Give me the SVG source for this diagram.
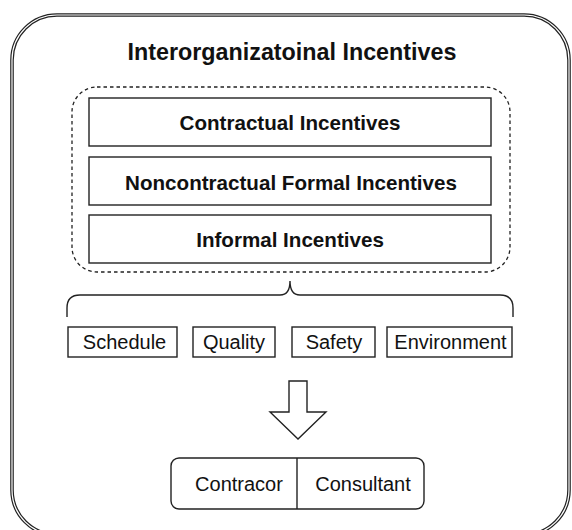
<svg xmlns="http://www.w3.org/2000/svg" width="572" height="530" viewBox="0 0 572 530">
  <style>
    .box { fill: #ffffff; stroke: #222222; stroke-width: 1.4; }
    .bold { font-family: "Liberation Sans", Arial, sans-serif; font-weight: bold; fill: #111111; text-anchor: middle; }
    .reg { font-family: "Liberation Sans", Arial, sans-serif; fill: #111111; text-anchor: middle; font-size: 20px; }
    .line { fill: none; stroke: #222222; stroke-width: 1.4; }
  </style>
  <rect width="572" height="530" fill="#ffffff"/>

  <!-- outer container with double border -->
  <g id="container">
    <rect x="12" y="15" width="557" height="520" rx="45" ry="45" fill="none" stroke="#222222" stroke-width="3.6"/>
    <rect x="12" y="15" width="557" height="520" rx="45" ry="45" fill="none" stroke="#ffffff" stroke-width="1.2"/>
    <text class="bold" x="292" y="60" font-size="23.3px">Interorganizatoinal Incentives</text>
  </g>

  <!-- dashed group of incentive types -->
  <g id="incentive-group">
    <rect x="72" y="87" width="438" height="185" rx="25" ry="25" fill="none" stroke="#222222" stroke-width="1.3" stroke-dasharray="3.5 3"/>
  </g>

  <g id="contractual">
    <rect class="box" x="89" y="98" width="402" height="48"/>
    <text class="bold" x="290" y="130" font-size="20.6px">Contractual Incentives</text>
  </g>
  <g id="noncontractual">
    <rect class="box" x="89" y="157" width="402" height="48"/>
    <text class="bold" x="291" y="190" font-size="20.6px">Noncontractual Formal Incentives</text>
  </g>
  <g id="informal">
    <rect class="box" x="89" y="215" width="402" height="48"/>
    <text class="bold" x="290" y="247" font-size="20.6px">Informal Incentives</text>
  </g>

  <!-- connectors: brace and block arrow -->
  <g id="connectors">
    <path class="line" d="M67,317 L67,308 Q67,295 80,295 L280,295 Q290,295 290,281 Q290,295 300,295 L500,295 Q513,295 513,308 L513,317"/>
    <path class="line" d="M289,381 L307,381 L307,412 L326,412 L298,439 L270,412 L289,412 Z"/>
  </g>

  <g id="schedule">
    <rect class="box" x="68" y="327" width="109" height="30"/>
    <text class="reg" x="124.5" y="348.5">Schedule</text>
  </g>
  <g id="quality">
    <rect class="box" x="193" y="327" width="82" height="30"/>
    <text class="reg" x="234" y="348.5">Quality</text>
  </g>
  <g id="safety">
    <rect class="box" x="292" y="327" width="83" height="30"/>
    <text class="reg" x="334" y="348.5">Safety</text>
  </g>
  <g id="environment">
    <rect class="box" x="387" y="327" width="125" height="30"/>
    <text class="reg" x="450.5" y="348.5">Environment</text>
  </g>

  <g id="parties">
    <rect class="box" x="171" y="458" width="253" height="51" rx="8" ry="8"/>
    <line class="line" x1="297" y1="458" x2="297" y2="509"/>
    <text class="reg" x="239" y="491">Contracor</text>
    <text class="reg" x="363" y="491">Consultant</text>
  </g>
</svg>
